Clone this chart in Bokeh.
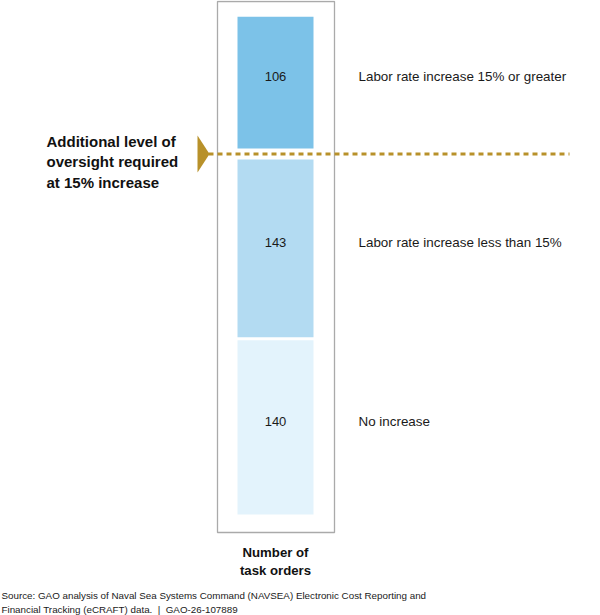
from bokeh.plotting import figure
from bokeh.models import Range1d, Label
from bokeh.embed import file_html
from bokeh.resources import INLINE

# ---- data ----
categories = ["No increase", "Labor rate increase less than 15%", "Labor rate increase 15% or greater"]
counts = [140, 143, 106]
colors = ["#E3F3FC", "#B3DBF2", "#7CC2E8"]
threshold_label = "Additional level of\noversight required\nat 15% increase"
axis_title = "Number of\ntask orders"
source_text = ("Source: GAO analysis of Naval Sea Systems Command (NAVSEA) Electronic Cost Reporting and\n"
               "Financial Tracking (eCRAFT) data.\u00a0\u00a0|\u00a0\u00a0GAO-26-107889")

W, H = 600, 615
K = 1.244          # pixels per task order
BASE_PY = 514      # pixel row of zero
gaps = [0, 2.4, 8.8]

def v(py):
    return (BASE_PY - py) / K

p = figure(width=W, height=H, output_backend="svg", toolbar_location=None,
           x_range=Range1d(0, W), y_range=Range1d(v(H), v(0)),
           min_border=0, outline_line_color=None)
p.axis.visible = False
p.grid.visible = False

bottoms, tops = [], []
cur = 0
for c, g in zip(counts, gaps):
    cur += g
    bottoms.append(cur)
    tops.append(cur + c)
    cur += c

bar_x, bar_w = 275, 76
# outer box
p.quad(left=[217], right=[334], bottom=[v(532)], top=[v(1)],
       fill_color=None, line_color="#AAAAAA", line_width=1.3)
# bars
p.quad(left=[bar_x - bar_w / 2] * 3, right=[bar_x + bar_w / 2] * 3,
       bottom=bottoms, top=tops, fill_color=colors, line_color=None)

# value labels and category labels
for b, t, c, name in zip(bottoms, tops, counts, categories):
    yc = (b + t) / 2 + 6 / K
    p.text(x=[bar_x], y=[yc], text=[str(c)], text_align="center", text_baseline="middle",
           text_font_size="13px", text_color="#1a1a1a", text_font={"value": "Liberation Sans"})
    p.text(x=[358], y=[yc], text=[name], text_align="left", text_baseline="middle",
           text_font_size="13.4px", text_color="#1a1a1a", text_font={"value": "Liberation Sans"})

# threshold line
line_y = (tops[1] + bottoms[2]) / 2
p.line(x=[208, 569], y=[line_y, line_y], line_color="#B8912A", line_width=3, line_dash="5 4")
half = 18.5 / K
p.patch(x=[197, 209, 197], y=[line_y + half, line_y, line_y - half],
        fill_color="#B8912A", line_color=None)

p.add_layout(Label(x=46, y=v(161.5), text=threshold_label, text_align="left",
                   text_baseline="middle", text_font_size="15px", text_font_style="bold",
                   text_color="#111111", text_font="Liberation Sans", text_line_height=1.23))

p.add_layout(Label(x=bar_x, y=v(561), text=axis_title, text_align="center",
                   text_baseline="middle", text_font_size="13.2px", text_font_style="bold",
                   text_color="#111111", text_font="Liberation Sans", text_line_height=1.2))

p.add_layout(Label(x=1, y=v(602), text=source_text, text_align="left",
                   text_baseline="middle", text_font_size="9.8px",
                   text_color="#1a1a1a", text_font="Liberation Sans", text_line_height=1.2))

open("out.html", "w").write(file_html(p, INLINE))
